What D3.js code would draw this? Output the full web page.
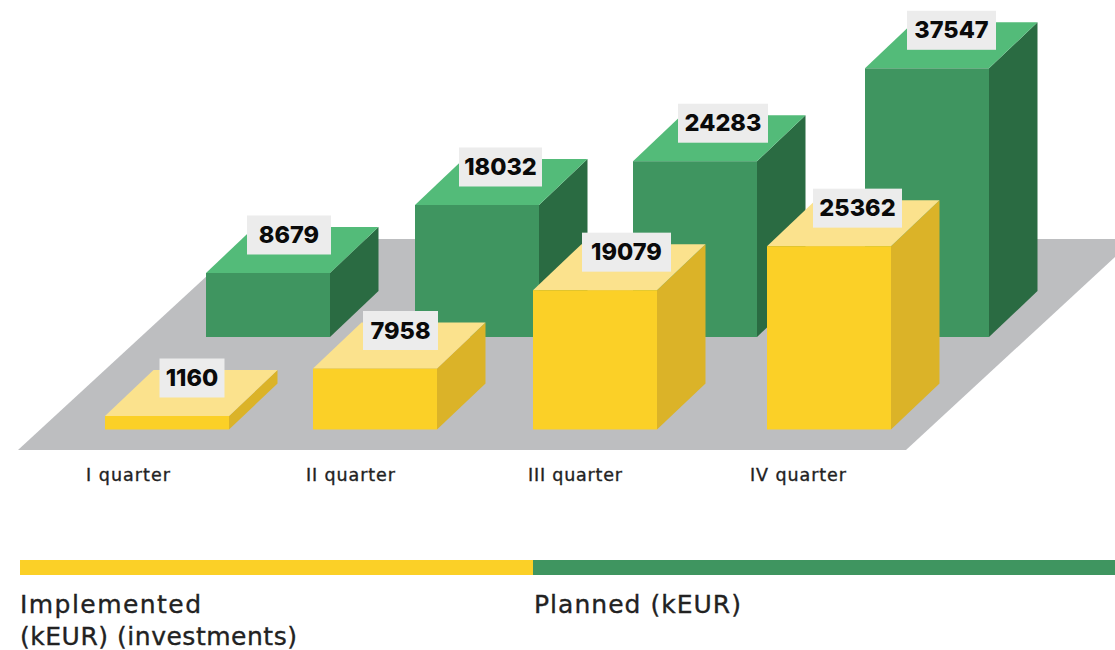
<!DOCTYPE html>
<html><head><meta charset="utf-8">
<script src="https://cdn.jsdelivr.net/npm/d3@7"></script>
<style>html,body{margin:0;padding:0;background:#fff}svg{display:block}text{font-family:Inter,"DejaVu Sans",sans-serif}.w{font-family:"DejaVu Sans",sans-serif;stroke:#222;stroke-width:.35px}</style>
</head><body><div id="c"></div>
<script>
const quarters = ["I quarter","II quarter","III quarter","IV quarter"];
const implemented = [1160,7958,19079,25362];
const planned = [8679,18032,24283,37547];
const legendLabels = [["Implemented","(kEUR) (investments)"],["Planned (kEUR)"]];

const W=1115,H=650;
const svg=d3.select("#c").append("svg").attr("width",W).attr("height",H);
const h=d3.scaleLinear().domain([1160,7958,8679,18032,37547]).range([13.5,61,64,132,268.7]);
const xImpl=d3.scaleOrdinal().domain(quarters).range([105,313,533,767]);
const xPlan=d3.scaleOrdinal().domain(quarters).range([206,415,633,865]);
const xLabel=d3.scaleOrdinal().domain(quarters).range([128,350.5,575,798]);
const labelW=d3.scaleOrdinal().domain(quarters).range([84,89,94,96]);
const bw=124,dx=48.5,dy=46;
const yellow={front:"#FBD027",top:"#FBE28D",side:"#DBB328"};
const green={front:"#3F9560",top:"#53BB79",side:"#2A6B42"};

svg.append("polygon").attr("points","18,450 906,450 1115,257 1115,239 247,239 18,450").attr("fill","#BDBEC0");

const series=[
 {vals:planned,x:xPlan,base:337,c:green,off:d3.scaleOrdinal().domain(quarters).range([83,85.5,90,86.5]),bx:d3.scaleOrdinal().domain(quarters).range([84,83,90,89])},
 {vals:implemented,x:xImpl,base:429.5,c:yellow,off:d3.scaleOrdinal().domain(quarters).range([87,87.5,93.5,90.5]),bx:d3.scaleOrdinal().domain(quarters).range([65,75,89,89])}
];
const labels=[];
series.forEach(s=>{
  const g=svg.append("g");
  quarters.forEach((q,i)=>{
    const x=s.x(q),bot=s.base,top=bot-h(s.vals[i]);
    g.append("polygon").attr("fill",s.c.side)
      .attr("points",[[x+bw,top],[x+bw+dx,top-dy],[x+bw+dx,bot-dy],[x+bw,bot]].join(" "));
    g.append("polygon").attr("fill",s.c.top)
      .attr("points",[[x,top],[x+dx,top-dy],[x+bw+dx,top-dy],[x+bw,top]].join(" "));
    g.append("rect").attr("x",x).attr("y",top).attr("width",bw).attr("height",bot-top).attr("fill",s.c.front);
    labels.push({v:s.vals[i],cx:x+s.off(q),w:s.bx(q),top});
  });
});
labels.forEach(l=>{
  const g=svg.append("g");
  g.append("rect").attr("x",l.cx-l.w/2).attr("y",l.top-57.5).attr("width",l.w).attr("height",39).attr("fill","#ECECEC");
  g.append("text").attr("x",l.cx).attr("y",l.top-30).attr("text-anchor","middle")
    .attr("font-size",23.5).attr("font-weight",800).attr("fill","#0a0a0a").text(l.v);
});
svg.append("g").selectAll("text").data(quarters).join("text").attr("class","w")
  .attr("x",q=>xLabel(q)).attr("y",481).attr("text-anchor","middle")
  .attr("font-size",17.5).attr("fill","#222")
  .attr("textLength",q=>labelW(q)).attr("lengthAdjust","spacing").text(q=>q);

svg.append("rect").attr("x",20).attr("y",560).attr("width",513).attr("height",15).attr("fill",yellow.front);
svg.append("rect").attr("x",533).attr("y",560).attr("width",582).attr("height",15).attr("fill",green.front);
const lg=[{x:20,y:613,s:legendLabels[0][0],w:181},{x:20,y:645,s:legendLabels[0][1],w:277},{x:534,y:613,s:legendLabels[1][0],w:207}];
svg.append("g").selectAll("text").data(lg).join("text").attr("class","w")
  .attr("x",d=>d.x).attr("y",d=>d.y).attr("font-size",25).attr("fill","#222")
  .attr("textLength",d=>d.w).attr("lengthAdjust","spacing").text(d=>d.s);
</script></body></html>
